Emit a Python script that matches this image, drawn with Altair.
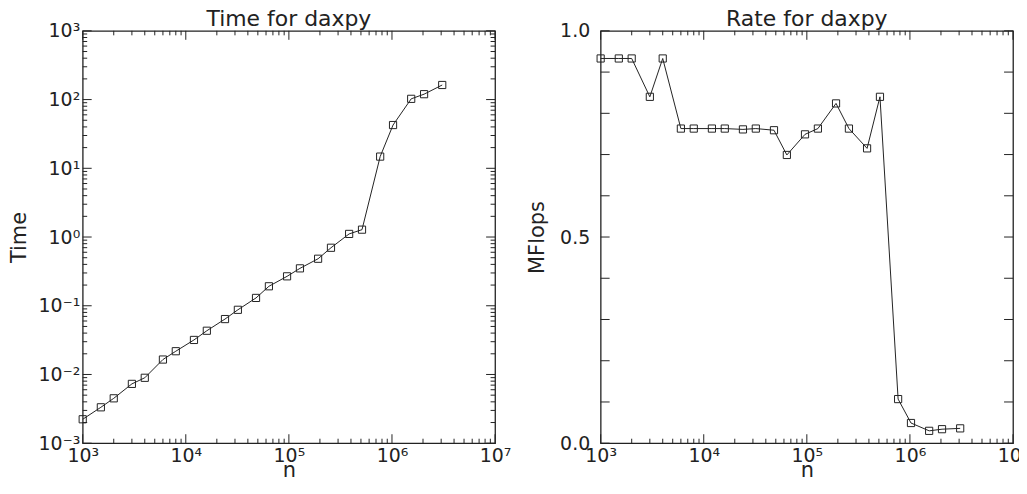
import json
import altair as alt
import pandas as pd

# ---- data ----
n = [1000, 1500, 2000, 3000, 4000, 6000, 8000, 12000, 16000, 24000, 32000, 48000,
     64000, 96000, 128000, 192000, 256000, 384000, 512000, 768000, 1024000,
     1536000, 2048000, 3072000]
time_s = [0.00223, 0.00333, 0.0045, 0.0073, 0.00895, 0.0165, 0.0218, 0.0318,
          0.0433, 0.064, 0.0873, 0.130, 0.192, 0.268, 0.350, 0.483, 0.698,
          1.11, 1.28, 14.8, 42.6, 102.5, 119.8, 163.0]
mflops = [0.933, 0.933, 0.933, 0.840, 0.933, 0.763, 0.763, 0.763, 0.763, 0.761,
          0.763, 0.759, 0.699, 0.749, 0.763, 0.824, 0.763, 0.715, 0.840, 0.107,
          0.049, 0.030, 0.034, 0.036]

# ---- tick values and labels ----
x_major = [1e3, 1e4, 1e5, 1e6, 1e7]
x_major_labels = ["10³", "10⁴", "10⁵", "10⁶", "10⁷"]
x_minor = [2e3, 3e3, 4e3, 5e3, 6e3, 7e3, 8e3, 9e3,
           2e4, 3e4, 4e4, 5e4, 6e4, 7e4, 8e4, 9e4,
           2e5, 3e5, 4e5, 5e5, 6e5, 7e5, 8e5, 9e5,
           2e6, 3e6, 4e6, 5e6, 6e6, 7e6, 8e6, 9e6]
t_major = [1e-3, 1e-2, 1e-1, 1e0, 1e1, 1e2, 1e3]
t_major_labels = ["10⁻³", "10⁻²", "10⁻¹", "10⁰", "10¹", "10²", "10³"]
t_minor = [2e-3, 3e-3, 4e-3, 5e-3, 6e-3, 7e-3, 8e-3, 9e-3,
           2e-2, 3e-2, 4e-2, 5e-2, 6e-2, 7e-2, 8e-2, 9e-2,
           2e-1, 3e-1, 4e-1, 5e-1, 6e-1, 7e-1, 8e-1, 9e-1,
           2e0, 3e0, 4e0, 5e0, 6e0, 7e0, 8e0, 9e0,
           2e1, 3e1, 4e1, 5e1, 6e1, 7e1, 8e1, 9e1,
           2e2, 3e2, 4e2, 5e2, 6e2, 7e2, 8e2, 9e2]
r_major = [0.0, 0.5, 1.0]
r_ticks = [0.0, 0.1, 0.2, 0.3, 0.4, 0.5, 0.6, 0.7, 0.8, 0.9, 1.0]

W = 414
H = 414
FONT = "DejaVu Sans"
INK = "#222222"
MAJ = 9
MIN = 4.5

df = pd.DataFrame({"n": n, "time": time_s, "mflops": mflops})

xscale = alt.Scale(type="log", domain=[1e3, 1e7], nice=False)
tscale = alt.Scale(type="log", domain=[1e-3, 1e3], nice=False)
rscale = alt.Scale(type="linear", domain=[0, 1], nice=False, zero=True)

x_label_expr = f"{json.dumps(x_major_labels, ensure_ascii=False)}[round(log(datum.value)/LN10) - 3]"
t_label_expr = f"{json.dumps(t_major_labels, ensure_ascii=False)}[round(log(datum.value)/LN10) + 3]"


def x_axis():
    return alt.Axis(values=x_major, labelExpr=x_label_expr, ticks=False, domain=False,
                    grid=False, labelFont=FONT, labelFontSize=19, labelColor=INK,
                    labelPadding=3, labelFlush=False, labelOverlap=False,
                    title="n", titleFont=FONT, titleFontSize=21, titleFontWeight="normal",
                    titleColor=INK, titleY=33, titleBaseline="alphabetic")


def y_axis(values, title, label_expr=None, fmt=None, pad=3):
    kw = dict(values=values, ticks=False, domain=False, grid=False, labelFont=FONT,
              labelFontSize=19, labelColor=INK, labelPadding=pad, labelOverlap=False,
              labelFlush=False, title=title, titleFont=FONT, titleFontSize=21,
              titleFontWeight="normal", titleColor=INK, titleX=-63,
              titleBaseline="middle", titleAngle=270)
    if label_expr:
        kw["labelExpr"] = label_expr
    if fmt:
        kw["format"] = fmt
    return alt.Axis(**kw)


def xticks(values, length):
    c = alt.Chart(pd.DataFrame({"n": values}))
    bottom = c.mark_rule(color=INK, strokeWidth=1).encode(
        x=alt.X("n:Q", scale=xscale, axis=x_axis()), y=alt.value(H), y2=alt.value(H - length))
    top = c.mark_rule(color=INK, strokeWidth=1).encode(
        x=alt.X("n:Q", scale=xscale, axis=x_axis()), y=alt.value(0), y2=alt.value(length))
    return [bottom, top]


def yticks(values, length, field, scale, yax):
    c = alt.Chart(pd.DataFrame({field: values}))
    left = c.mark_rule(color=INK, strokeWidth=1).encode(
        y=alt.Y(f"{field}:Q", scale=scale, axis=yax), x=alt.value(0), x2=alt.value(length))
    right = c.mark_rule(color=INK, strokeWidth=1).encode(
        y=alt.Y(f"{field}:Q", scale=scale, axis=yax), x=alt.value(W), x2=alt.value(W - length))
    return [left, right]


def panel(field, scale, yax, title, ytick_layers):
    base = alt.Chart(df).encode(
        x=alt.X("n:Q", scale=xscale, axis=x_axis()),
        y=alt.Y(f"{field}:Q", scale=scale, axis=yax),
    )
    line = base.mark_line(color=INK, strokeWidth=1)
    pts = base.mark_point(shape="square", filled=False, size=52, color=INK,
                          strokeWidth=1, opacity=1)
    layers = [line, pts] + xticks(x_major, MAJ) + xticks(x_minor, MIN) + ytick_layers
    return alt.layer(*layers).properties(
        width=W, height=H,
        title=alt.TitleParams(title, font=FONT, fontSize=22, fontWeight="normal",
                              color=INK, offset=-9, frame="group", anchor="middle"),
    )


t_axis = y_axis(t_major, "Time", label_expr=t_label_expr, pad=3)
r_axis = y_axis(r_major, "MFlops", fmt=".1f", pad=11)

left = panel("time", tscale, t_axis, "Time for daxpy",
             yticks(t_major, MAJ, "time", tscale, t_axis)
             + yticks(t_minor, MIN, "time", tscale, t_axis))

right = panel("mflops", rscale, r_axis, "Rate for daxpy",
              yticks(r_ticks, MAJ, "mflops", rscale, r_axis))

chart = (
    alt.hconcat(left, right, spacing=14)
    .properties(padding={"top": -2, "left": 0, "right": -11, "bottom": -3},
                background="white")
    .configure(font=FONT)
    .configure_view(stroke=INK, strokeWidth=1.3)
)

chart.save("out.html", embed_options={"renderer": "svg", "actions": False})
